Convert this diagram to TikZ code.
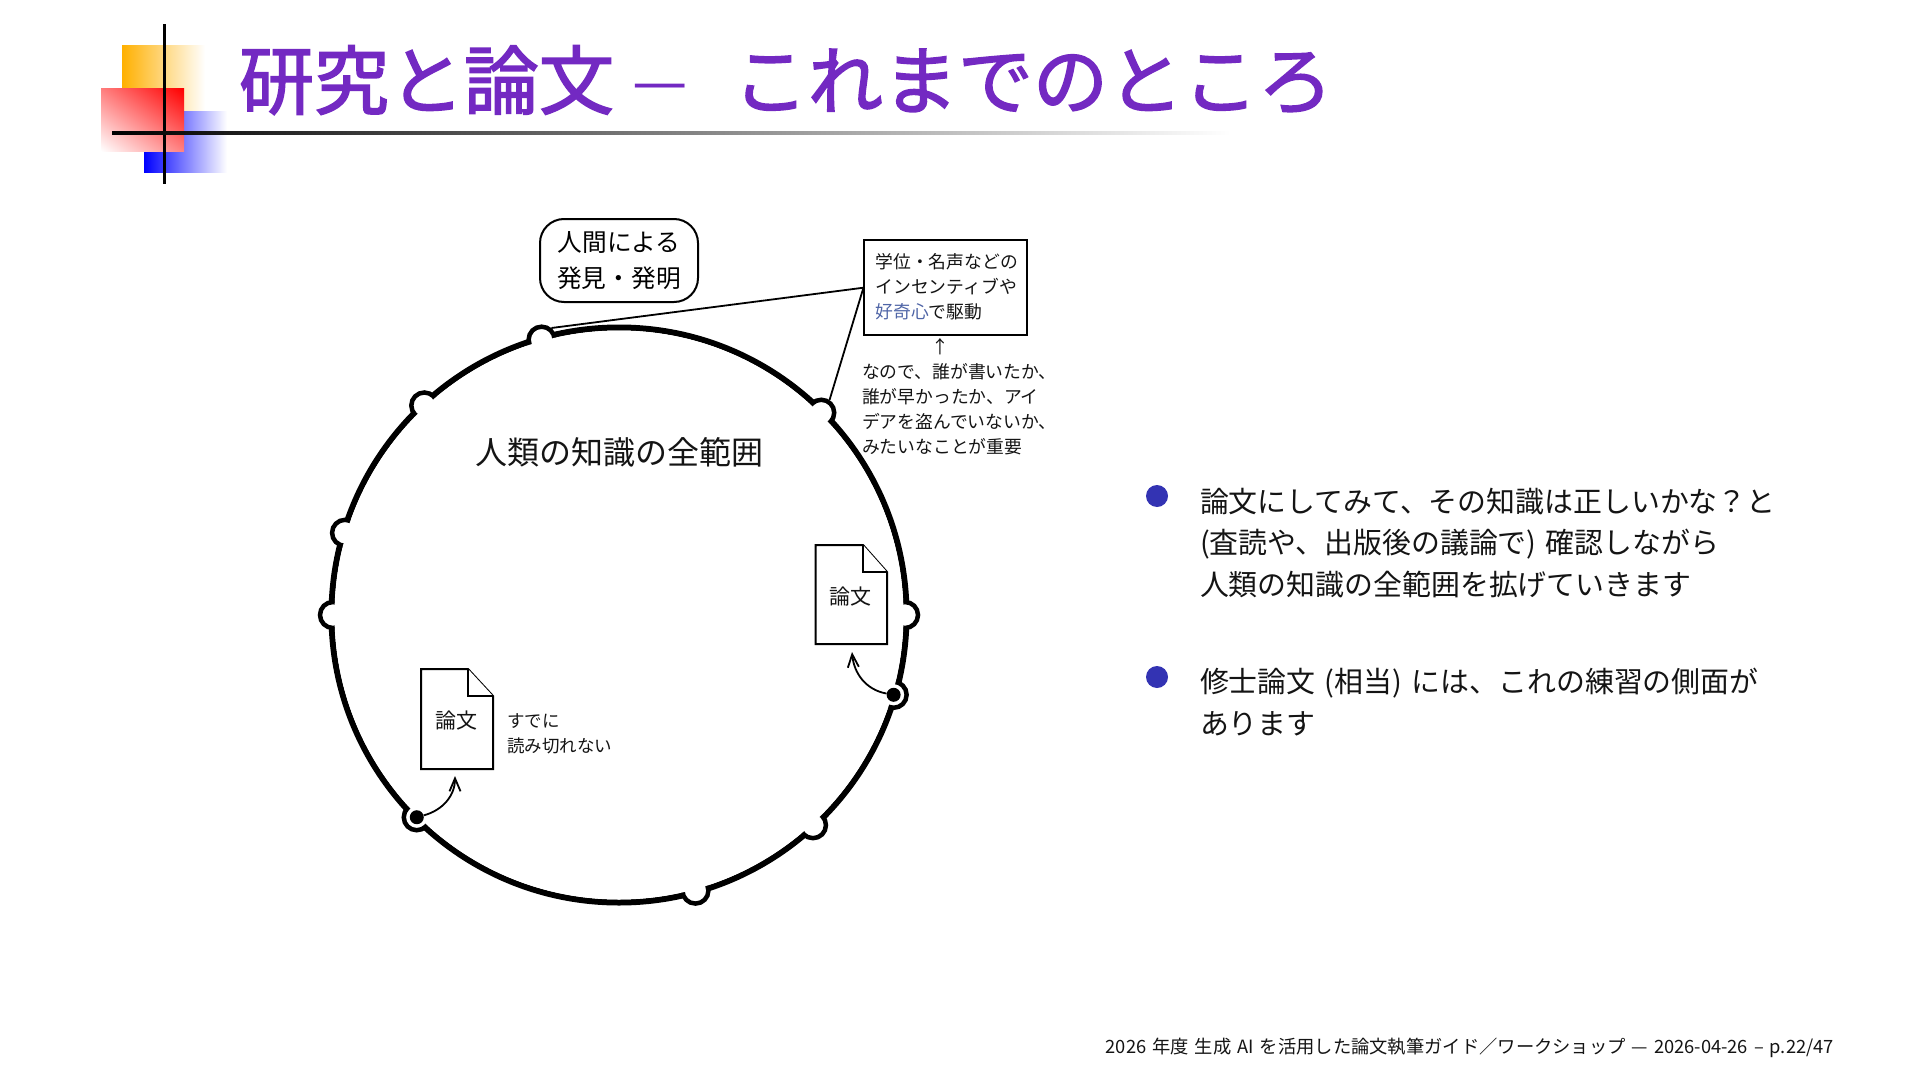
\documentclass[tikz,border=0pt]{standalone}
\usepackage{fontspec}
\setmainfont[WordSpace=1.45]{Noto Sans CJK JP}
\newfontfamily\titlefont[FakeBold=2]{Noto Sans CJK JP}
\usetikzlibrary{arrows.meta,shadings}
\definecolor{titlec}{HTML}{7329C2}
\definecolor{bulletc}{HTML}{3333B3}
\definecolor{kouki}{HTML}{4E64A6}
\definecolor{orangec}{HTML}{FFB000}
\newcommand{\fs}[2]{\fontsize{#1pt}{#2pt}\selectfont}
\tikzset{
  txt/.style={inner sep=0pt,outer sep=0pt,anchor=west,align=left,text=black!92},
  ctxt/.style={inner sep=0pt,outer sep=0pt,anchor=center,align=center,text=black!92},
  titletxt/.style={inner sep=0pt,outer sep=0pt,anchor=base west,text=titlec,font=\titlefont\fs{75}{80}},
  bump/.style={circle,draw=black,fill=white,line width=4.5pt,minimum size=26pt,inner sep=0pt},
  dotmark/.style={circle,fill=black,minimum size=14pt,inner sep=0pt},
  bullet/.style={circle,fill=bulletc,minimum size=22pt,inner sep=0pt},
  conn/.style={draw=black,line width=1.8pt},
  cite/.style={draw=black,line width=1.8pt,-{Straight Barb[length=13pt,width=11pt]}},
  doc/.style={draw=black,line width=2pt,fill=white,line join=miter},
}
\begin{document}
\begin{tikzpicture}[x=1pt,y=-1pt]
\useasboundingbox (0,0) rectangle (1920,1081);
% logo
\shade[left color=orangec,right color=white] (122,46) rectangle (205,110);
\shade[left color=blue,right color=white] (144,111) rectangle (227,172);
\shade[upper right=red,lower left=white,upper left=red!50!white,lower right=red!50!white] (101,89) rectangle (184,151);
\fill[black] (162.5,24) rectangle (165.5,184);
\shade[left color=black,right color=white] (112,131.2) rectangle (1231,134.8);
% title
\node[titletxt] (t1) at (239,108.5) {研究と論文};
\node[inner sep=0pt,anchor=base,text=titlec,font=\fs{62}{66}] (t2) at (660,103) {—};
\node[titletxt] (t3) at (733,108.5) {これまでのところ};
% big circle
\coordinate (c) at (619,615);
\node[circle,draw=black,line width=6pt,minimum size=575pt,inner sep=0pt] (main) at (c) {};
\foreach \a [count=\i] in {105.7,132.9,163.3,180,225,285.5,312.7,343.8,0,45}
  \node[bump] (b\i) at ([shift={(\a:286pt)}]c) {};
\node[circle,fill=white,minimum size=569pt,inner sep=0pt] (inner) at (c) {};
\node[dotmark] (d1) at (b5) {};
\node[dotmark] (d2) at (b8) {};
\node[ctxt,font=\fs{32}{36}] (range) at (619,452) {人類の知識の全範囲};
% human box
\node[draw=black,line width=2pt,rounded corners=24pt,minimum width=158pt,minimum height=83pt,inner sep=0pt,font=\fs{24.7}{36},align=center] (human) at (619,260.5) {人間による\\発見・発明};
% incentive box
\node[draw=black,line width=2pt,minimum width=162.5pt,minimum height=95.5pt,inner sep=0pt] (inc) at (945.7,287.7) {};
\node[txt,font=\fs{17.8}{25}] (inctext) at (875.5,287) {学位・名声などの\\インセンティブや\\{\color{kouki}好奇心}で駆動};
\node[ctxt,font=\fs{17.8}{20}] (up) at (940,346.5) {↑};
\node[txt,font=\fs{17.8}{25}] (why) at (862,409) {なので、誰が書いたか、\\誰が早かったか、アイ\\デアを盗んでいないか、\\みたいなことが重要};
\draw[conn] (inc.west) -- (b1.50);
\draw[conn] (inc.west) -- (b10.57);
% documents
\draw[doc] (815.6,545) -- (863,545) -- (887,572) -- (887,644) -- (815.6,644) -- cycle;
\draw[doc] (863,545) -- (863,572) -- (887,572);
\node[ctxt,font=\fs{21}{24}] (docA) at (850.5,597) {論文};
\draw[doc] (421,669) -- (468,669) -- (493,696) -- (493,769) -- (421,769) -- cycle;
\draw[doc] (468,669) -- (468,696) -- (493,696);
\node[ctxt,font=\fs{21}{24}] (docB) at (456,721) {論文};
\node[txt,font=\fs{17.5}{25}] (unread) at (507,734) {すでに\\読み切れない};
\coordinate (tipA) at (852,652);
\coordinate (tipB) at (455,776);
\draw[cite] (d2) to[out=170,in=-85] (tipA);
\draw[cite] (d1) to[out=15,in=-90] (tipB);
% body
\node[bullet] (bu1) at (1157,496) {};
\node[bullet] (bu2) at (1157,677) {};
\node[txt,font=\fs{28.9}{41.5}] (p1) at (1200,543) {論文にしてみて、その知識は正しいかな？と\\(査読や、出版後の議論で) 確認しながら\\人類の知識の全範囲を拡げていきます};
\node[txt,font=\fs{28.9}{42}] (p2) at (1200,702.5) {修士論文 (相当) には、これの練習の側面が\\あります};
% footer
\node[inner sep=0pt,anchor=east,text=black!92,font=\fs{18.3}{22}] (foot) at (1834,1048) {2026 年度 生成 AI を活用した論文執筆ガイド／ワークショップ — 2026-04-26 – p.22/47};
\end{tikzpicture}
\end{document}
